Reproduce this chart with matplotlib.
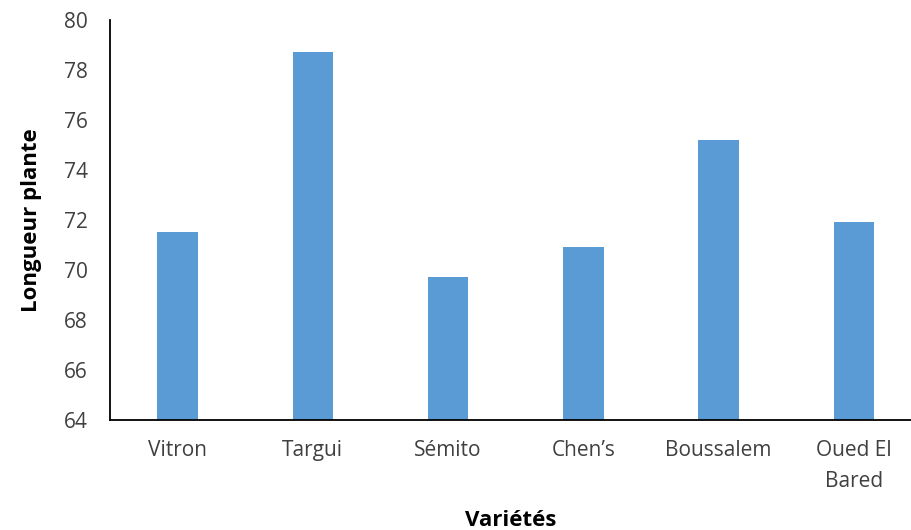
import numpy as np
import matplotlib.pyplot as plt

# Longueur moyenne de la plante par variété
varietes = ['Vitron', 'Targui', 'Sémito', 'Chen\u2019s', 'Boussalem', 'Oued El\nBared']
longueur = [71.5, 78.7, 69.7, 70.9, 75.2, 71.9]
yticks = [64, 66, 68, 70, 72, 74, 76, 78, 80]

plt.rcParams['font.family'] = ['Open Sans', 'DejaVu Sans']

fig = plt.figure(figsize=(9.12, 5.3), dpi=100)
ax = fig.add_axes([110 / 912, 1 - 419.5 / 530, 1 - 110 / 912, (419.5 - 20) / 530])

x = np.arange(len(varietes))
ax.bar(x, longueur, width=0.3, color='#5B9BD5', zorder=2)

ax.set_ylim(64, 80)
ax.set_yticks(yticks)
ax.set_xlim(-0.5, 5.43)
ax.set_xticks(x)
ax.set_xticklabels(varietes, linespacing=1.6)

ax.tick_params(axis='both', length=0, labelsize=15, colors='#404040')
ax.tick_params(axis='x', pad=15)
ax.tick_params(axis='y', pad=16)

for s in ['top', 'right']:
    ax.spines[s].set_visible(False)
for s in ['left', 'bottom']:
    ax.spines[s].set_linewidth(1.3)
    ax.spines[s].set_color('black')

ax.set_xlabel('Variétés', fontsize=16, fontweight='bold', labelpad=13)
ax.set_ylabel('Longueur plante', fontsize=16, fontweight='bold', labelpad=16)

fig.savefig('out.png', dpi=100)
